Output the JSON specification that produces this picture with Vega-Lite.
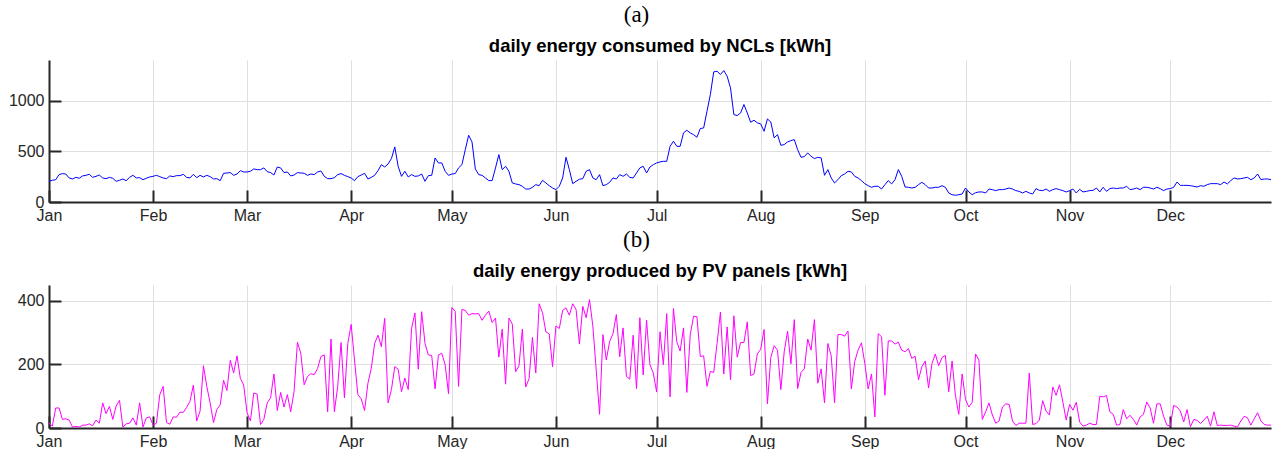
{
"$schema": "https://vega.github.io/schema/vega-lite/v6.json",
"padding": {"top": 3, "left": 8, "right": 2, "bottom": 0},
"background": "white",
"config": {"view": {"stroke": null}, "font": "Liberation Sans",
 "axis": {"title": null, "grid": true, "gridColor": "#dfdfdf", "gridWidth": 1, "domainColor": "#262626", "domainWidth": 2, "tickColor": "#262626", "tickWidth": 2, "tickSize": -12, "labelFont": "Liberation Sans", "labelFontSize": 16, "labelColor": "#262626", "labelPadding": 17, "labelFlush": false, "labelOverlap": false},
 "axisY": {"minExtent": 41, "maxExtent": 41}
},
"data": {"values": [
{"day":0,"ncl":204,"pv":15},{"day":1,"ncl":214,"pv":6},{"day":2,"ncl":220,"pv":63},{"day":3,"ncl":270,"pv":63},{"day":4,"ncl":280,"pv":27},{"day":5,"ncl":276,"pv":29},{"day":6,"ncl":237,"pv":25},{"day":7,"ncl":227,"pv":3},{"day":8,"ncl":243,"pv":5},{"day":9,"ncl":234,"pv":3},
{"day":10,"ncl":257,"pv":9},{"day":11,"ncl":263,"pv":9},{"day":12,"ncl":273,"pv":13},{"day":13,"ncl":243,"pv":7},{"day":14,"ncl":253,"pv":25},{"day":15,"ncl":266,"pv":15},{"day":16,"ncl":237,"pv":79},{"day":17,"ncl":230,"pv":45},{"day":18,"ncl":243,"pv":68},{"day":19,"ncl":234,"pv":27},
{"day":20,"ncl":204,"pv":69},{"day":21,"ncl":214,"pv":87},{"day":22,"ncl":227,"pv":3},{"day":23,"ncl":210,"pv":13},{"day":24,"ncl":243,"pv":15},{"day":25,"ncl":263,"pv":32},{"day":26,"ncl":237,"pv":9},{"day":27,"ncl":240,"pv":79},{"day":28,"ncl":220,"pv":3},{"day":29,"ncl":234,"pv":32},
{"day":30,"ncl":247,"pv":35},{"day":31,"ncl":253,"pv":9},{"day":32,"ncl":263,"pv":15},{"day":33,"ncl":250,"pv":105},{"day":34,"ncl":237,"pv":131},{"day":35,"ncl":230,"pv":17},{"day":36,"ncl":257,"pv":12},{"day":37,"ncl":250,"pv":35},{"day":38,"ncl":260,"pv":34},{"day":39,"ncl":260,"pv":50},
{"day":40,"ncl":273,"pv":49},{"day":41,"ncl":243,"pv":65},{"day":42,"ncl":237,"pv":84},{"day":43,"ncl":273,"pv":135},{"day":44,"ncl":240,"pv":22},{"day":45,"ncl":263,"pv":53},{"day":46,"ncl":247,"pv":196},{"day":47,"ncl":263,"pv":131},{"day":48,"ncl":250,"pv":79},{"day":49,"ncl":227,"pv":17},
{"day":50,"ncl":230,"pv":58},{"day":51,"ncl":210,"pv":73},{"day":52,"ncl":283,"pv":150},{"day":53,"ncl":286,"pv":118},{"day":54,"ncl":290,"pv":213},{"day":55,"ncl":263,"pv":173},{"day":56,"ncl":276,"pv":227},{"day":57,"ncl":309,"pv":156},{"day":58,"ncl":296,"pv":135},{"day":59,"ncl":296,"pv":48},
{"day":60,"ncl":303,"pv":22},{"day":61,"ncl":326,"pv":110},{"day":62,"ncl":319,"pv":107},{"day":63,"ncl":319,"pv":11},{"day":64,"ncl":336,"pv":27},{"day":65,"ncl":299,"pv":79},{"day":66,"ncl":290,"pv":95},{"day":67,"ncl":266,"pv":170},{"day":68,"ncl":345,"pv":55},{"day":69,"ncl":336,"pv":112},
{"day":70,"ncl":290,"pv":66},{"day":71,"ncl":296,"pv":105},{"day":72,"ncl":257,"pv":51},{"day":73,"ncl":266,"pv":115},{"day":74,"ncl":290,"pv":270},{"day":75,"ncl":286,"pv":235},{"day":76,"ncl":283,"pv":136},{"day":77,"ncl":263,"pv":162},{"day":78,"ncl":276,"pv":171},{"day":79,"ncl":270,"pv":168},
{"day":80,"ncl":296,"pv":187},{"day":81,"ncl":306,"pv":225},{"day":82,"ncl":253,"pv":230},{"day":83,"ncl":230,"pv":51},{"day":84,"ncl":230,"pv":280},{"day":85,"ncl":240,"pv":51},{"day":86,"ncl":270,"pv":131},{"day":87,"ncl":280,"pv":269},{"day":88,"ncl":263,"pv":95},{"day":89,"ncl":250,"pv":266},
{"day":90,"ncl":237,"pv":326},{"day":91,"ncl":210,"pv":214},{"day":92,"ncl":250,"pv":105},{"day":93,"ncl":266,"pv":92},{"day":94,"ncl":283,"pv":55},{"day":95,"ncl":227,"pv":141},{"day":96,"ncl":243,"pv":188},{"day":97,"ncl":263,"pv":266},{"day":98,"ncl":309,"pv":292},{"day":99,"ncl":368,"pv":256},
{"day":100,"ncl":345,"pv":345},{"day":101,"ncl":375,"pv":79},{"day":102,"ncl":428,"pv":121},{"day":103,"ncl":543,"pv":193},{"day":104,"ncl":352,"pv":185},{"day":105,"ncl":253,"pv":114},{"day":106,"ncl":303,"pv":157},{"day":107,"ncl":247,"pv":121},{"day":108,"ncl":270,"pv":313},{"day":109,"ncl":253,"pv":362},
{"day":110,"ncl":257,"pv":185},{"day":111,"ncl":276,"pv":366},{"day":112,"ncl":204,"pv":266},{"day":113,"ncl":260,"pv":230},{"day":114,"ncl":263,"pv":228},{"day":115,"ncl":434,"pv":123},{"day":116,"ncl":385,"pv":230},{"day":117,"ncl":385,"pv":235},{"day":118,"ncl":303,"pv":199},{"day":119,"ncl":263,"pv":108},
{"day":120,"ncl":276,"pv":379},{"day":121,"ncl":280,"pv":367},{"day":122,"ncl":336,"pv":131},{"day":123,"ncl":368,"pv":373},{"day":124,"ncl":516,"pv":370},{"day":125,"ncl":658,"pv":355},{"day":126,"ncl":592,"pv":360},{"day":127,"ncl":326,"pv":359},{"day":128,"ncl":270,"pv":360},{"day":129,"ncl":263,"pv":339},
{"day":130,"ncl":237,"pv":355},{"day":131,"ncl":211,"pv":368},{"day":132,"ncl":211,"pv":332},{"day":133,"ncl":336,"pv":346},{"day":134,"ncl":467,"pv":223},{"day":135,"ncl":319,"pv":311},{"day":136,"ncl":352,"pv":138},{"day":137,"ncl":303,"pv":346},{"day":138,"ncl":188,"pv":327},{"day":139,"ncl":178,"pv":177},
{"day":140,"ncl":171,"pv":196},{"day":141,"ncl":155,"pv":311},{"day":142,"ncl":128,"pv":129},{"day":143,"ncl":128,"pv":155},{"day":144,"ncl":145,"pv":285},{"day":145,"ncl":171,"pv":173},{"day":146,"ncl":161,"pv":391},{"day":147,"ncl":214,"pv":363},{"day":148,"ncl":188,"pv":303},{"day":149,"ncl":161,"pv":296},
{"day":150,"ncl":138,"pv":193},{"day":151,"ncl":122,"pv":321},{"day":152,"ncl":155,"pv":313},{"day":153,"ncl":237,"pv":370},{"day":154,"ncl":441,"pv":378},{"day":155,"ncl":319,"pv":355},{"day":156,"ncl":181,"pv":391},{"day":157,"ncl":204,"pv":373},{"day":158,"ncl":224,"pv":264},{"day":159,"ncl":230,"pv":383},
{"day":160,"ncl":303,"pv":347},{"day":161,"ncl":319,"pv":404},{"day":162,"ncl":237,"pv":321},{"day":163,"ncl":220,"pv":183},{"day":164,"ncl":270,"pv":43},{"day":165,"ncl":161,"pv":294},{"day":166,"ncl":171,"pv":214},{"day":167,"ncl":194,"pv":272},{"day":168,"ncl":237,"pv":297},{"day":169,"ncl":227,"pv":357},
{"day":170,"ncl":270,"pv":224},{"day":171,"ncl":253,"pv":315},{"day":172,"ncl":276,"pv":162},{"day":173,"ncl":243,"pv":154},{"day":174,"ncl":237,"pv":292},{"day":175,"ncl":286,"pv":124},{"day":176,"ncl":336,"pv":347},{"day":177,"ncl":352,"pv":167},{"day":178,"ncl":286,"pv":339},{"day":179,"ncl":345,"pv":199},
{"day":180,"ncl":368,"pv":173},{"day":181,"ncl":385,"pv":113},{"day":182,"ncl":395,"pv":303},{"day":183,"ncl":401,"pv":199},{"day":184,"ncl":401,"pv":360},{"day":185,"ncl":549,"pv":98},{"day":186,"ncl":599,"pv":376},{"day":187,"ncl":549,"pv":271},{"day":188,"ncl":549,"pv":242},{"day":189,"ncl":681,"pv":315},
{"day":190,"ncl":707,"pv":112},{"day":191,"ncl":681,"pv":293},{"day":192,"ncl":664,"pv":352},{"day":193,"ncl":638,"pv":350},{"day":194,"ncl":724,"pv":225},{"day":195,"ncl":730,"pv":227},{"day":196,"ncl":895,"pv":131},{"day":197,"ncl":1059,"pv":178},{"day":198,"ncl":1283,"pv":175},{"day":199,"ncl":1289,"pv":266},
{"day":200,"ncl":1257,"pv":365},{"day":201,"ncl":1296,"pv":170},{"day":202,"ncl":1240,"pv":318},{"day":203,"ncl":1125,"pv":152},{"day":204,"ncl":862,"pv":353},{"day":205,"ncl":852,"pv":223},{"day":206,"ncl":878,"pv":269},{"day":207,"ncl":961,"pv":269},{"day":208,"ncl":878,"pv":334},{"day":209,"ncl":786,"pv":165},
{"day":210,"ncl":806,"pv":170},{"day":211,"ncl":780,"pv":233},{"day":212,"ncl":770,"pv":248},{"day":213,"ncl":697,"pv":310},{"day":214,"ncl":819,"pv":76},{"day":215,"ncl":789,"pv":222},{"day":216,"ncl":632,"pv":259},{"day":217,"ncl":664,"pv":245},{"day":218,"ncl":559,"pv":121},{"day":219,"ncl":566,"pv":240},
{"day":220,"ncl":592,"pv":305},{"day":221,"ncl":605,"pv":202},{"day":222,"ncl":615,"pv":341},{"day":223,"ncl":516,"pv":124},{"day":224,"ncl":441,"pv":175},{"day":225,"ncl":447,"pv":186},{"day":226,"ncl":484,"pv":280},{"day":227,"ncl":451,"pv":245},{"day":228,"ncl":428,"pv":341},{"day":229,"ncl":441,"pv":141},
{"day":230,"ncl":434,"pv":186},{"day":231,"ncl":263,"pv":79},{"day":232,"ncl":319,"pv":266},{"day":233,"ncl":237,"pv":227},{"day":234,"ncl":188,"pv":79},{"day":235,"ncl":220,"pv":294},{"day":236,"ncl":260,"pv":294},{"day":237,"ncl":276,"pv":289},{"day":238,"ncl":303,"pv":305},{"day":239,"ncl":296,"pv":123},
{"day":240,"ncl":253,"pv":209},{"day":241,"ncl":237,"pv":245},{"day":242,"ncl":211,"pv":268},{"day":243,"ncl":181,"pv":204},{"day":244,"ncl":161,"pv":123},{"day":245,"ncl":145,"pv":170},{"day":246,"ncl":155,"pv":35},{"day":247,"ncl":155,"pv":297},{"day":248,"ncl":128,"pv":287},{"day":249,"ncl":171,"pv":103},
{"day":250,"ncl":211,"pv":274},{"day":251,"ncl":178,"pv":274},{"day":252,"ncl":220,"pv":264},{"day":253,"ncl":319,"pv":270},{"day":254,"ncl":253,"pv":245},{"day":255,"ncl":148,"pv":240},{"day":256,"ncl":145,"pv":250},{"day":257,"ncl":138,"pv":219},{"day":258,"ncl":145,"pv":226},{"day":259,"ncl":171,"pv":152},
{"day":260,"ncl":194,"pv":193},{"day":261,"ncl":171,"pv":211},{"day":262,"ncl":138,"pv":126},{"day":263,"ncl":138,"pv":202},{"day":264,"ncl":145,"pv":233},{"day":265,"ncl":145,"pv":196},{"day":266,"ncl":161,"pv":222},{"day":267,"ncl":145,"pv":228},{"day":268,"ncl":89,"pv":114},{"day":269,"ncl":72,"pv":211},
{"day":270,"ncl":66,"pv":103},{"day":271,"ncl":72,"pv":43},{"day":272,"ncl":79,"pv":170},{"day":273,"ncl":138,"pv":90},{"day":274,"ncl":99,"pv":66},{"day":275,"ncl":72,"pv":81},{"day":276,"ncl":92,"pv":233},{"day":277,"ncl":99,"pv":214},{"day":278,"ncl":99,"pv":27},{"day":279,"ncl":89,"pv":51},
{"day":280,"ncl":128,"pv":79},{"day":281,"ncl":122,"pv":41},{"day":282,"ncl":112,"pv":15},{"day":283,"ncl":122,"pv":22},{"day":284,"ncl":122,"pv":66},{"day":285,"ncl":128,"pv":76},{"day":286,"ncl":138,"pv":74},{"day":287,"ncl":128,"pv":22},{"day":288,"ncl":112,"pv":8},{"day":289,"ncl":105,"pv":15},
{"day":290,"ncl":89,"pv":15},{"day":291,"ncl":105,"pv":15},{"day":292,"ncl":89,"pv":173},{"day":293,"ncl":79,"pv":11},{"day":294,"ncl":132,"pv":14},{"day":295,"ncl":115,"pv":25},{"day":296,"ncl":112,"pv":86},{"day":297,"ncl":128,"pv":53},{"day":298,"ncl":105,"pv":41},{"day":299,"ncl":122,"pv":129},
{"day":300,"ncl":132,"pv":103},{"day":301,"ncl":122,"pv":136},{"day":302,"ncl":112,"pv":82},{"day":303,"ncl":99,"pv":25},{"day":304,"ncl":112,"pv":74},{"day":305,"ncl":128,"pv":56},{"day":306,"ncl":89,"pv":81},{"day":307,"ncl":125,"pv":19},{"day":308,"ncl":99,"pv":6},{"day":309,"ncl":105,"pv":9},
{"day":310,"ncl":112,"pv":15},{"day":311,"ncl":115,"pv":11},{"day":312,"ncl":138,"pv":11},{"day":313,"ncl":99,"pv":100},{"day":314,"ncl":145,"pv":98},{"day":315,"ncl":105,"pv":102},{"day":316,"ncl":132,"pv":51},{"day":317,"ncl":138,"pv":43},{"day":318,"ncl":132,"pv":9},{"day":319,"ncl":138,"pv":11},
{"day":320,"ncl":138,"pv":58},{"day":321,"ncl":155,"pv":29},{"day":322,"ncl":122,"pv":40},{"day":323,"ncl":128,"pv":27},{"day":324,"ncl":138,"pv":9},{"day":325,"ncl":122,"pv":35},{"day":326,"ncl":145,"pv":43},{"day":327,"ncl":145,"pv":82},{"day":328,"ncl":138,"pv":63},{"day":329,"ncl":128,"pv":15},
{"day":330,"ncl":145,"pv":76},{"day":331,"ncl":132,"pv":76},{"day":332,"ncl":112,"pv":37},{"day":333,"ncl":128,"pv":9},{"day":334,"ncl":132,"pv":6},{"day":335,"ncl":145,"pv":71},{"day":336,"ncl":197,"pv":66},{"day":337,"ncl":164,"pv":53},{"day":338,"ncl":164,"pv":19},{"day":339,"ncl":164,"pv":58},
{"day":340,"ncl":161,"pv":4},{"day":341,"ncl":155,"pv":27},{"day":342,"ncl":148,"pv":24},{"day":343,"ncl":161,"pv":14},{"day":344,"ncl":155,"pv":25},{"day":345,"ncl":171,"pv":37},{"day":346,"ncl":181,"pv":6},{"day":347,"ncl":181,"pv":51},{"day":348,"ncl":181,"pv":8},{"day":349,"ncl":171,"pv":9},
{"day":350,"ncl":197,"pv":8},{"day":351,"ncl":178,"pv":8},{"day":352,"ncl":211,"pv":9},{"day":353,"ncl":237,"pv":6},{"day":354,"ncl":227,"pv":3},{"day":355,"ncl":230,"pv":22},{"day":356,"ncl":237,"pv":37},{"day":357,"ncl":243,"pv":32},{"day":358,"ncl":220,"pv":9},{"day":359,"ncl":237,"pv":29},
{"day":360,"ncl":276,"pv":48},{"day":361,"ncl":220,"pv":22},{"day":362,"ncl":227,"pv":11},{"day":363,"ncl":227,"pv":9},{"day":364,"ncl":220,"pv":9}
]},
"spacing": 5,
"vconcat": [
 {"title": {"text": "(a)", "font": "Liberation Serif", "fontSize": 23, "fontWeight": "normal", "color": "black", "anchor": "middle", "frame": "bounds", "offset": 10, "dx": -3},
  "vconcat": [
   {"width": 1222, "height": 142,
    "title": {"text": "daily energy consumed by NCLs [kWh]", "font": "Liberation Sans", "fontSize": 18.5, "fontWeight": "bold", "color": "black", "anchor": "middle", "frame": "group", "offset": 5},
    "mark": {"type": "line", "color": "#0000ff", "strokeWidth": 1, "clip": true},
    "encoding": {
     "x": {"field": "day", "type": "quantitative", "scale": {"domain": [0, 364], "nice": false, "zero": false},
           "axis": {"values": [0,31,59,90,120,151,181,212,243,273,304,334], "labelExpr": "['Jan','Feb','Mar','Apr','May','Jun','Jul','Aug','Sep','Oct','Nov','Dec'][indexof([0,31,59,90,120,151,181,212,243,273,304,334], datum.value)]"}},
     "y": {"field": "ncl", "type": "quantitative", "scale": {"domain": [0, 1400], "nice": false}, "axis": {"values": [0, 500, 1000], "format": "d"}}
    }}
  ]},
 {"title": {"text": "(b)", "font": "Liberation Serif", "fontSize": 23, "fontWeight": "normal", "color": "black", "anchor": "middle", "frame": "bounds", "offset": 10, "dx": -3},
  "vconcat": [
   {"width": 1222, "height": 143,
    "title": {"text": "daily energy produced by PV panels [kWh]", "font": "Liberation Sans", "fontSize": 18.5, "fontWeight": "bold", "color": "black", "anchor": "middle", "frame": "group", "offset": 5},
    "mark": {"type": "line", "color": "#ff00ff", "strokeWidth": 1, "clip": true},
    "encoding": {
     "x": {"field": "day", "type": "quantitative", "scale": {"domain": [0, 364], "nice": false, "zero": false},
           "axis": {"values": [0,31,59,90,120,151,181,212,243,273,304,334], "labelExpr": "['Jan','Feb','Mar','Apr','May','Jun','Jul','Aug','Sep','Oct','Nov','Dec'][indexof([0,31,59,90,120,151,181,212,243,273,304,334], datum.value)]"}},
     "y": {"field": "pv", "type": "quantitative", "scale": {"domain": [0, 450], "nice": false}, "axis": {"values": [0, 200, 400], "format": "d"}}
    }}
  ]}
]
}
